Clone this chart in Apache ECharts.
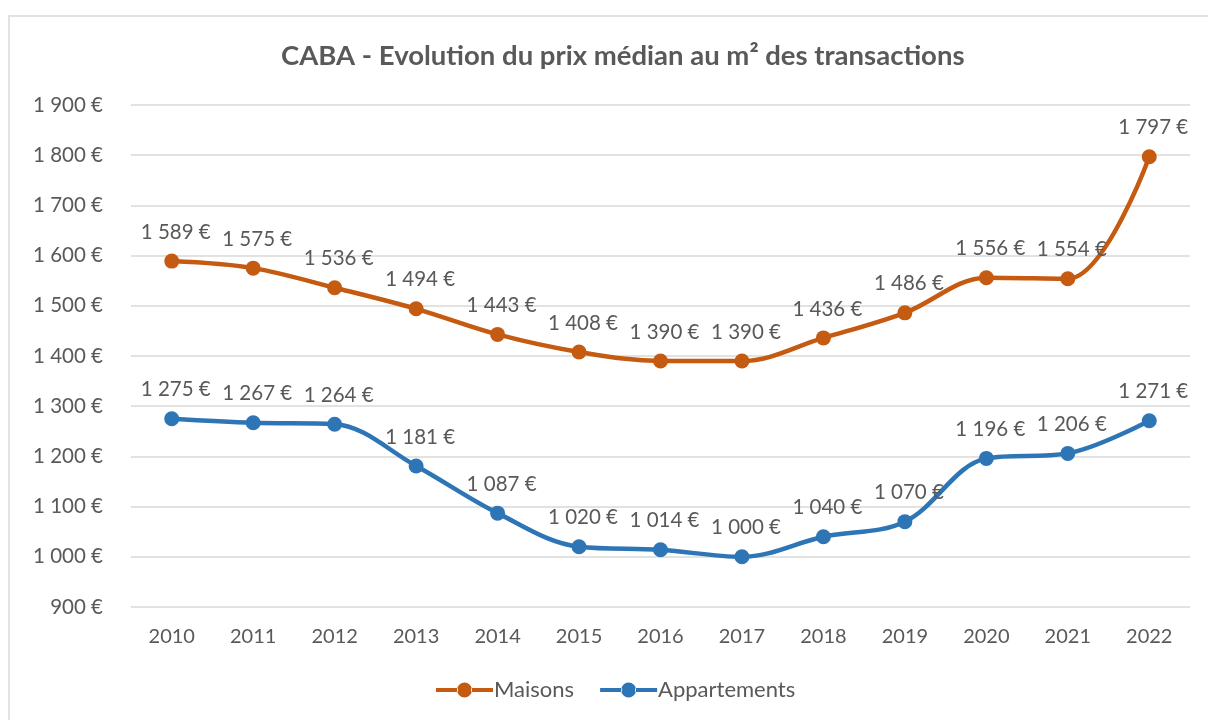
<!DOCTYPE html>
<html>
<head>
<meta charset="utf-8">
<script src="https://cdn.jsdelivr.net/npm/echarts@6/dist/echarts.min.js"></script>
<style>
  html, body { margin: 0; padding: 0; background: #fff; }
  #chart { width: 1208px; height: 720px; }
</style>
</head>
<body>
<div id="chart"></div>
<script>
  // données
  var annees = ['2010', '2011', '2012', '2013', '2014', '2015', '2016', '2017', '2018', '2019', '2020', '2021', '2022'];
  var maisons = [1589, 1575, 1536, 1494, 1443, 1408, 1390, 1390, 1436, 1486, 1556, 1554, 1797];
  var appartements = [1275, 1267, 1264, 1181, 1087, 1020, 1014, 1000, 1040, 1070, 1196, 1206, 1271];

  function euro(v) {
    var s = String(Math.round(v));
    return s.replace(/\B(?=(\d{3})+(?!\d))/g, ' ') + ' €';
  }

  var textColor = '#595959';
  var font = 'Lato, "Open Sans", sans-serif';
  // icône de légende : trait épais + rond
  var iconeLigne = 'path://M0 5.5h22v4H0z M35 5.5h22v4H35z M21 7.5a7.5 7.5 0 1 0 15 0a7.5 7.5 0 1 0 -15 0z';

  var myChart = echarts.init(document.getElementById('chart'));
  myChart.setOption({
    animation: false,
    textStyle: { fontFamily: font, color: textColor },
    graphic: [{
      type: 'rect',
      shape: { x: 9, y: 16, width: 1210, height: 720 },
      style: { fill: 'none', stroke: '#d9d9d9', lineWidth: 1.5 },
      silent: true
    }],
    title: {
      text: 'CABA - Evolution du prix médian au m² des transactions',
      left: 276,
      top: 37,
      textStyle: { fontSize: 27.5, fontWeight: 'bold', color: textColor, fontFamily: font }
    },
    legend: {
      bottom: 14,
      left: 431,
      itemWidth: 57,
      itemHeight: 15,
      itemGap: 26,
      icon: iconeLigne,
      textStyle: { fontSize: 22, color: textColor, fontFamily: font, padding: [0, 0, 0, -4] },
      data: ['Maisons', 'Appartements']
    },
    grid: { left: 131, right: 18, top: 105, bottom: 113 },
    xAxis: {
      type: 'category',
      data: annees,
      boundaryGap: true,
      axisLine: { show: false },
      axisTick: { show: false },
      axisLabel: { fontSize: 20, color: textColor, margin: 20, fontFamily: font }
    },
    yAxis: {
      type: 'value',
      min: 900,
      max: 1900,
      interval: 100,
      axisLine: { show: false },
      axisTick: { show: false },
      splitLine: { lineStyle: { color: '#d9d9d9', width: 1.5 } },
      axisLabel: { fontSize: 20.5, color: textColor, margin: 28, fontFamily: font, formatter: euro }
    },
    series: [{
      name: 'Maisons',
      type: 'line',
      data: maisons,
      smooth: 0.35,
      symbol: 'circle',
      symbolSize: 15,
      itemStyle: { color: '#C55A11' },
      lineStyle: { color: '#C55A11', width: 4.5 },
      label: {
        show: true, position: 'top', distance: 11, fontSize: 20.5,
        color: textColor, fontFamily: font, offset: [4, 0],
        formatter: function (p) { return euro(p.value); }
      }
    }, {
      name: 'Appartements',
      type: 'line',
      data: appartements,
      smooth: 0.35,
      symbol: 'circle',
      symbolSize: 15,
      itemStyle: { color: '#2E75B6' },
      lineStyle: { color: '#2E75B6', width: 4.5 },
      label: {
        show: true, position: 'top', distance: 11, fontSize: 20.5,
        color: textColor, fontFamily: font, offset: [4, 0],
        formatter: function (p) { return euro(p.value); }
      }
    }]
  });
  window.onresize = myChart.resize;
</script>
</body>
</html>
